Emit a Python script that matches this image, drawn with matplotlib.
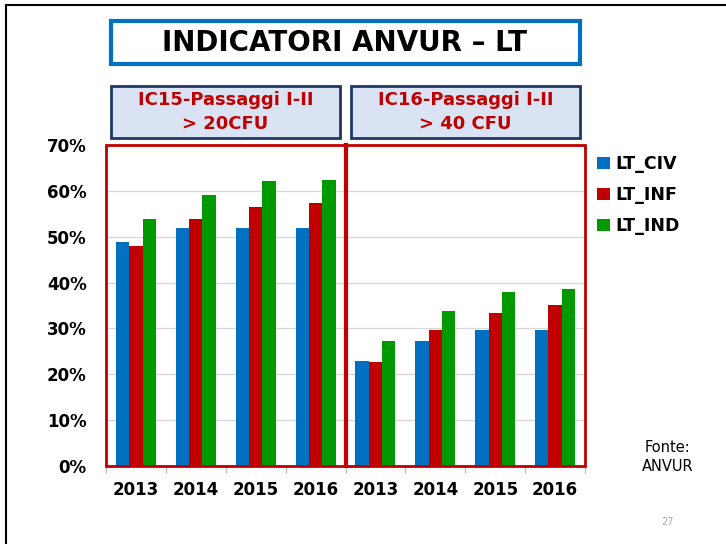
import matplotlib
matplotlib.use("Agg")
import matplotlib.pyplot as plt
from matplotlib.patches import Rectangle, Patch
from matplotlib.lines import Line2D
import numpy as np

years = ["2013", "2014", "2015", "2016"]
series = ["LT_CIV", "LT_INF", "LT_IND"]
ic15_civ = [48.8, 51.8, 51.9, 51.8]
ic15_inf = [48.0, 53.9, 56.4, 57.4]
ic15_ind = [53.8, 59.0, 62.1, 62.4]
ic16_civ = [23.0, 27.3, 29.7, 29.7]
ic16_inf = [22.7, 29.6, 33.3, 35.1]
ic16_ind = [27.3, 33.8, 37.9, 38.6]
yticks = [0, 10, 20, 30, 40, 50, 60, 70]
panel_titles = ["IC15-Passaggi I-II\n> 20CFU", "IC16-Passaggi I-II\n> 40 CFU"]
colors = ["#0070C0", "#C00000", "#009A00"]

W, H = 726, 544
fig = plt.figure(figsize=(W / 100, H / 100), dpi=100)
plt.rcParams['font.family'] = ['DejaVu Sans']

def fx(px):
    return px / W

def fy(py):
    return 1 - py / H

# slide border
fig.add_artist(Line2D([fx(6), fx(6)], [fy(5), fy(544)], color="black", lw=1.5))
fig.add_artist(Line2D([fx(6), fx(726)], [fy(5), fy(5)], color="black", lw=1.5))

left, right, top, bottom = 106, 585, 145, 466
ax = fig.add_axes([fx(left), fy(bottom), fx(right - left), (bottom - top) / H])

labels = years + years
vals = [ic15_civ + ic16_civ, ic15_inf + ic16_inf, ic15_ind + ic16_ind]
x = np.arange(len(labels))
bw = 0.222
for i, (v, c, name) in enumerate(zip(vals, colors, series)):
    ax.bar(x + (i - 1) * bw, v, width=bw, color=c, label=name, zorder=3)

ax.set_xlim(-0.5, len(labels) - 0.5)
ax.set_ylim(0, 70)
ax.set_yticks(yticks)
ax.set_yticklabels([f"{t}%" for t in yticks], fontsize=12, fontweight="bold")
ax.set_xticks(x)
ax.set_xticklabels(labels, fontsize=12, fontweight="bold")
ax.set_xticks(np.arange(-0.5, len(labels)), minor=True)
ax.tick_params(axis="x", which="major", length=0, pad=11)
ax.tick_params(axis="x", which="minor", length=5, color="#BFBFBF", width=1)
ax.tick_params(axis="y", length=0, pad=14)
ax.grid(axis="y", color="#D9D9D9", lw=1, zorder=0)
for s in ax.spines.values():
    s.set_visible(False)

# red panel boxes
ax.add_patch(Rectangle((-0.5, 0), 4, 70, fill=False, edgecolor="#C00000", lw=2, zorder=4, clip_on=False))
ax.add_patch(Rectangle((3.5, 0), 4, 70, fill=False, edgecolor="#C00000", lw=2, zorder=4, clip_on=False))
ax.plot([3.5, 3.5], [0, 70], color="#C00000", lw=3, zorder=5, clip_on=False)

# title box
fig.patches.append(Rectangle((fx(111), fy(64)), fx(580 - 111), (64 - 21) / H,
                             transform=fig.transFigure, facecolor="white",
                             edgecolor="#0070C0", lw=3))
fig.text(fx(345), fy(43), "INDICATORI ANVUR – LT", fontsize=20, fontweight="bold",
         ha="center", va="center")

# subtitle boxes
for (l, r), t in zip([(111, 340), (351, 580)], panel_titles):
    fig.patches.append(Rectangle((fx(l), fy(138)), fx(r - l), (138 - 86) / H,
                                 transform=fig.transFigure, facecolor="#DAE3F3",
                                 edgecolor="#1F3864", lw=2))
    fig.text(fx((l + r) / 2), fy(112), t, fontsize=13, fontweight="bold", color="#C00000",
             ha="center", va="center", linespacing=1.4)

handles = [Patch(facecolor=c, edgecolor="none") for c in colors]
fig.legend(handles, series, loc="upper left", bbox_to_anchor=(fx(590), fy(148)),
           frameon=False, handlelength=0.75, handleheight=0.75, handletextpad=0.3,
           labelspacing=0.75, prop={"size": 12.5, "weight": "bold"}, borderaxespad=0)

fig.text(fx(668), fy(457), "Fonte:\nANVUR", fontsize=10.5, ha="center", va="center",
         linespacing=1.3)
fig.text(fx(668), fy(522), "27", fontsize=7, color="#A6A6A6", ha="center", va="center")

fig.savefig("out.png", dpi=100)
